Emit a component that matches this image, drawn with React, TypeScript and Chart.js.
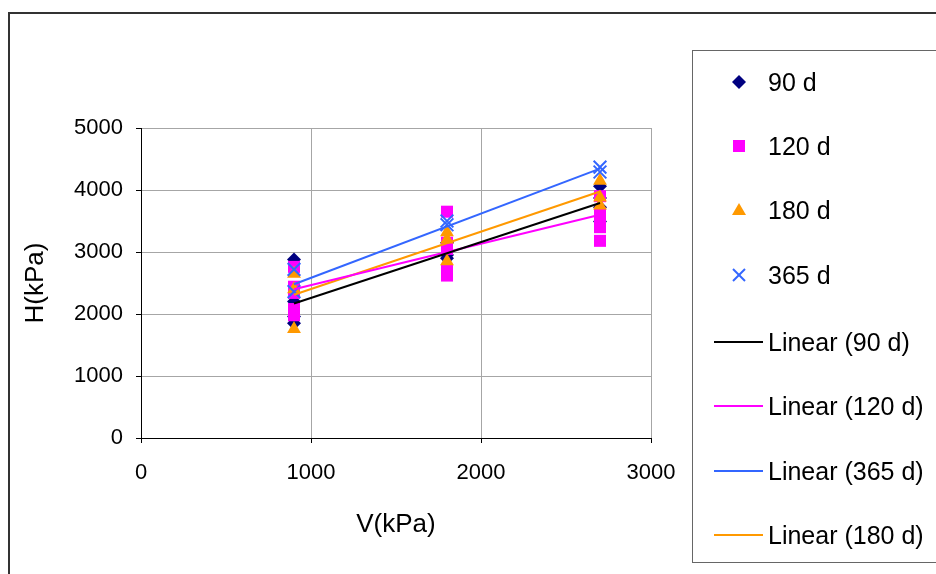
import React, { useEffect, useRef } from "react";
import { Chart, registerables } from "chart.js";

Chart.register(...registerables);

// ---- data ----
const xLevels = [900, 1800, 2700];

// H values (kPa) at each V level, per curing age
const h90 = [
  [2880, 2200, 1850, 1960],
  [3150, 2950, 2900],
  [4060, 3870, 3720, 3490],
];
const h120 = [
  [2760, 2440, 2340, 2080, 1980],
  [3650, 3150, 3050, 2700, 2620],
  [3900, 3620, 3500, 3400, 3180],
];
const h180 = [
  [2650, 2400, 1760],
  [3320, 3200, 2850],
  [4150, 3880, 3750],
];
const h365 = [
  [2720, 2360],
  [3500, 3440],
  [4370, 4290],
];

// linear trend lines (values at the V ends)
const trendX = [900, 2700];
const trend90 = [2170, 3790];
const trend120 = [2400, 3600];
const trend365 = [2480, 4345];
const trend180 = [2310, 3975];

const xTicks = [0, 1000, 2000, 3000];
const yTicks = [0, 1000, 2000, 3000, 4000, 5000];

const seriesLabels = ["90 d", "120 d", "180 d", "365 d"];
const trendLabels = ["Linear (90 d)", "Linear (120 d)", "Linear (365 d)", "Linear (180 d)"];

const NAVY = "#000080";
const MAGENTA = "#FF00FF";
const ORANGE = "#FF9900";
const BLUE = "#3366FF";
const FONT = 'Arial, "Liberation Sans", sans-serif';

function toPoints(groups: number[][]) {
  const pts: { x: number; y: number }[] = [];
  groups.forEach((g, i) => g.forEach((h) => pts.push({ x: xLevels[i], y: h })));
  return pts;
}
function toLine(vals: number[]) {
  return vals.map((v, i) => ({ x: trendX[i], y: v }));
}

export default function App() {
  const ref = useRef<HTMLCanvasElement | null>(null);

  useEffect(() => {
    if (!ref.current) return;
    const lineDs = (label: string, vals: number[], color: string) => ({
      label,
      data: toLine(vals),
      showLine: true,
      borderColor: color,
      backgroundColor: color,
      borderWidth: 2,
      pointRadius: 0,
      order: 0,
    });
    const chart = new Chart(ref.current, {
      type: "scatter",
      data: {
        datasets: [
          {
            label: seriesLabels[0],
            data: toPoints(h90),
            pointStyle: "rectRot",
            pointRadius: 7,
            backgroundColor: NAVY,
            borderColor: NAVY,
            borderWidth: 0,
            order: 4,
          },
          {
            label: seriesLabels[1],
            data: toPoints(h120),
            pointStyle: "rect",
            pointRadius: 8.5,
            backgroundColor: MAGENTA,
            borderColor: MAGENTA,
            borderWidth: 0,
            order: 3,
          },
          {
            label: seriesLabels[2],
            data: toPoints(h180),
            pointStyle: "triangle",
            pointRadius: 8,
            backgroundColor: ORANGE,
            borderColor: ORANGE,
            borderWidth: 0,
            order: 2,
          },
          {
            label: seriesLabels[3],
            data: toPoints(h365),
            pointStyle: "crossRot",
            pointRadius: 9,
            backgroundColor: BLUE,
            borderColor: BLUE,
            borderWidth: 2,
            order: 1,
          },
          lineDs(trendLabels[0], trend90, "#000000"),
          lineDs(trendLabels[1], trend120, MAGENTA),
          lineDs(trendLabels[2], trend365, BLUE),
          lineDs(trendLabels[3], trend180, ORANGE),
        ],
      },
      options: {
        animation: false,
        responsive: false,
        devicePixelRatio: 1,
        layout: { padding: { left: 20, top: 128, right: 285, bottom: 34 } },
        plugins: { legend: { display: false }, tooltip: { enabled: false } },
        scales: {
          x: {
            type: "linear",
            min: 0,
            max: 3000,
            afterBuildTicks: (s: any) => {
              s.ticks = xTicks.map((v) => ({ value: v }));
            },
            ticks: {
              color: "#000",
              font: { family: FONT, size: 22 },
              padding: 17,
              callback: (v: any) => String(v),
            },
            grid: { color: "#a6a6a6", tickColor: "#000", tickLength: 5, lineWidth: 1 },
            border: { color: "#000", width: 1 },
            title: {
              display: true,
              text: "V(kPa)",
              color: "#000",
              font: { family: FONT, size: 26 },
              padding: { top: 3, bottom: 0 },
            },
            afterFit: (s: any) => {
              s.height = 102;
            },
          },
          y: {
            type: "linear",
            min: 0,
            max: 5000,
            afterBuildTicks: (s: any) => {
              s.ticks = yTicks.map((v) => ({ value: v }));
            },
            ticks: {
              color: "#000",
              font: { family: FONT, size: 22 },
              padding: 13,
              callback: (v: any) => String(v),
            },
            grid: { color: "#a6a6a6", tickColor: "#000", tickLength: 5, lineWidth: 1 },
            border: { color: "#000", width: 1 },
            title: {
              display: true,
              text: "H(kPa)",
              color: "#000",
              font: { family: FONT, size: 26 },
              padding: { top: 0, bottom: 0 },
            },
            afterFit: (s: any) => {
              s.width = 121;
            },
          },
        },
      },
    } as any);
    return () => chart.destroy();
  }, []);

  const rowY = [82, 146, 210, 275, 342, 406, 471, 535];
  const markerCx = 739;

  const marker = (i: number) => {
    const s = 24;
    const c = s / 2;
    if (i === 0)
      return <polygon points={`${c},${c - 7} ${c + 7},${c} ${c},${c + 7} ${c - 7},${c}`} fill={NAVY} />;
    if (i === 1) return <rect x={c - 6} y={c - 6} width={12} height={12} fill={MAGENTA} />;
    if (i === 2)
      return <polygon points={`${c},${c - 7} ${c + 7},${c + 5} ${c - 7},${c + 5}`} fill={ORANGE} />;
    return (
      <g stroke={BLUE} strokeWidth={2}>
        <line x1={c - 6} y1={c - 6} x2={c + 6} y2={c + 6} />
        <line x1={c - 6} y1={c + 6} x2={c + 6} y2={c - 6} />
      </g>
    );
  };
  const trendColors = ["#000000", MAGENTA, BLUE, ORANGE];

  const textStyle = (y: number): React.CSSProperties => ({
    position: "absolute",
    left: 768,
    top: y - 15,
    height: 30,
    lineHeight: "30px",
    fontFamily: FONT,
    fontSize: 25,
    color: "#000",
    whiteSpace: "nowrap",
  });

  return (
    <div style={{ position: "fixed", left: 0, top: 0, width: 936, height: 574, overflow: "hidden", background: "#fff" }}>
      <canvas
        ref={ref}
        width={936}
        height={574}
        style={{ position: "absolute", left: 0, top: 0, width: 936, height: 574 }}
      />
      <div
        style={{
          position: "absolute",
          left: 8,
          top: 12,
          width: 2000,
          height: 2000,
          borderLeft: "2px solid #333",
          borderTop: "2px solid #333",
          pointerEvents: "none",
        }}
      />
      <div
        style={{
          position: "absolute",
          left: 692,
          top: 50,
          width: 400,
          height: 511,
          border: "1.5px solid #666",
          background: "transparent",
        }}
      />
      {seriesLabels.map((lab, i) => (
        <React.Fragment key={lab}>
          <svg
            width={24}
            height={24}
            style={{ position: "absolute", left: markerCx - 12, top: rowY[i] - 12 }}
          >
            {marker(i)}
          </svg>
          <div style={textStyle(rowY[i])}>{lab}</div>
        </React.Fragment>
      ))}
      {trendLabels.map((lab, i) => (
        <React.Fragment key={lab}>
          <div
            style={{
              position: "absolute",
              left: 714,
              top: rowY[4 + i] - 1,
              width: 49,
              height: 2,
              background: trendColors[i],
            }}
          />
          <div style={textStyle(rowY[4 + i])}>{lab}</div>
        </React.Fragment>
      ))}
    </div>
  );
}
